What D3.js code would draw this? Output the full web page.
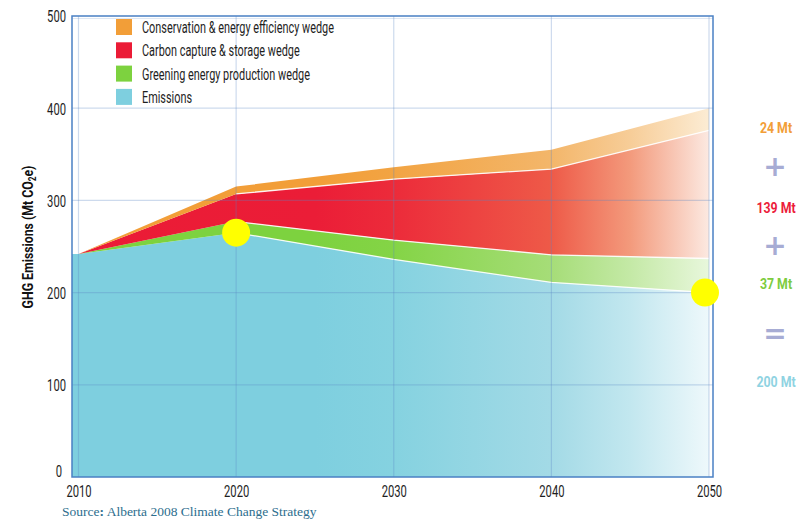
<!DOCTYPE html>
<html>
<head>
<meta charset="utf-8">
<script src="https://cdn.jsdelivr.net/npm/d3@7"></script>
<style>
  html, body { margin: 0; padding: 0; background: #ffffff; }
  svg { display: block; }
</style>
</head>
<body>
<svg id="chart" width="811" height="520"></svg>
<script>
// Alberta GHG emission wedges, 2010–2050 (Mt CO2e)
const years = [2010, 2020, 2030, 2040, 2050];
const emissions = [242, 265, 236, 211, 200];
const greening = [0, 12, 21, 30, 37];
const carbonCapture = [0, 30, 66, 93, 139];
const conservation = [0, 8, 13, 21, 24];

const yTicks = [0, 100, 200, 300, 400, 500];
const xTicks = [2010, 2020, 2030, 2040, 2050];

const seriesKeys = ["emissions", "greening", "carbonCapture", "conservation"];
const legendLabels = [
  "Conservation & energy efficiency wedge",
  "Carbon capture & storage wedge",
  "Greening energy production wedge",
  "Emissions"
];
const legendColors = ["#f29e38", "#eb1b36", "#7dd23f", "#7ecfdf"];

// 2050 wedge totals shown on the right
const wedgeLabels = ["24 Mt", "139 Mt", "37 Mt", "200 Mt"];
const wedgeLabelColors = ["#f29e38", "#ec1c3a", "#7dcc3f", "#8fd3e2"];
const operators = ["+", "+", "="];

// Highlighted emission points
const highlightYears = [2020, 2050];

// Colour ramps: full colour early on, washing out toward 2050
const fadeYears = [2010, 2025, 2030, 2040, 2045, 2050];
const fadeColors = {
  emissions:     ["#7ecfdf", "#7ecfdf", "#85d2e0", "#a3dae6", "#c2e7ef", "#eef8fb"],
  greening:      ["#7dd23f", "#7dd23f", "#84d446", "#a6dd78", "#c4e9a6", "#e8f7dc"],
  carbonCapture: ["#eb1b36", "#eb1d37", "#ec2b3a", "#ee5a48", "#f39a7c", "#fce9e1"],
  conservation:  ["#f29e38", "#f29e38", "#f2a443", "#f3b66a", "#f7cd98", "#fcecd4"]
};

const rows = years.map((yr, i) => ({
  year: yr,
  emissions: emissions[i],
  greening: greening[i],
  carbonCapture: carbonCapture[i],
  conservation: conservation[i]
}));

const svg = d3.select("#chart");
const frame = { left: 72, right: 713, top: 16, bottom: 477 };

const x = d3.scaleLinear().domain([2010, 2050]).range([78.5, 709]);
const y = d3.scaleLinear().domain([0, 500]).range([frame.bottom, frame.top]);

const stacked = d3.stack().keys(seriesKeys)(rows);

const defs = svg.append("defs");
seriesKeys.forEach(k => {
  const g = defs.append("linearGradient")
    .attr("id", "grad-" + k)
    .attr("gradientUnits", "userSpaceOnUse")
    .attr("x1", x(2010)).attr("x2", x(2050))
    .attr("y1", 0).attr("y2", 0);
  fadeYears.forEach((yr, j) => {
    g.append("stop")
      .attr("offset", (yr - 2010) / 40)
      .attr("stop-color", fadeColors[k][j]);
  });
});

// Stacked areas
const area = d3.area()
  .x(d => x(d.data.year))
  .y0(d => y(d[0]))
  .y1(d => y(d[1]));

stacked.forEach((s, i) => {
  let pts = s.slice();
  let a = area;
  if (i === 0) {
    // emissions fill reaches the left frame edge
    a = d3.area()
      .x((d, j) => j === 0 ? frame.left : x(d.data.year))
      .y0(d => y(d[0]))
      .y1(d => y(d[1]));
    pts = [s[0]].concat(s);
  }
  svg.append("path")
    .attr("d", a(pts))
    .attr("fill", "url(#grad-" + seriesKeys[i] + ")");
});

// White separators between layers
const topLine = d3.line().x(d => x(d.data.year)).y(d => y(d[1]));
stacked.slice(0, 3).forEach(s => {
  svg.append("path")
    .attr("d", topLine(s.slice(1)))
    .attr("fill", "none")
    .attr("stroke", "#ffffff")
    .attr("stroke-width", 1.3)
    .attr("stroke-opacity", 0.9);
});

// Grid
const grid = svg.append("g").attr("stroke", "#5b86c5").attr("stroke-opacity", 0.3).attr("stroke-width", 1.2);
yTicks.filter(t => t > 0 && t < 500).forEach(t => {
  grid.append("line")
    .attr("x1", frame.left).attr("x2", frame.right)
    .attr("y1", y(t)).attr("y2", y(t));
});
xTicks.forEach(t => {
  grid.append("line")
    .attr("x1", x(t)).attr("x2", x(t))
    .attr("y1", frame.top).attr("y2", frame.bottom);
});
grid.append("line")
  .attr("x1", frame.left).attr("x2", frame.right)
  .attr("y1", frame.top + 2.5).attr("y2", frame.top + 2.5)
  .attr("stroke-opacity", 0.2);

// Frame
svg.append("rect")
  .attr("x", frame.left).attr("y", frame.top)
  .attr("width", frame.right - frame.left)
  .attr("height", frame.bottom - frame.top)
  .attr("fill", "none")
  .attr("stroke", "#4a80c4")
  .attr("stroke-width", 1.5);

// Highlight dots
svg.selectAll("circle.hl")
  .data(highlightYears)
  .join("circle")
  .attr("class", "hl")
  .attr("cx", yr => x(yr) - (yr === 2050 ? 4 : 0))
  .attr("cy", yr => y(emissions[years.indexOf(yr)]))
  .attr("r", 14)
  .attr("fill", "#ffff00");

const sans = "Roboto, 'Noto Sans', 'DejaVu Sans', sans-serif";

// Condense text horizontally around its own x position
function condense(sel, f) {
  sel.each(function () {
    const t = d3.select(this);
    const ox = +t.attr("x") || 0;
    t.attr("x", ox / f).attr("transform", `scale(${f},1)`);
  });
}

// Axes
const yAxis = svg.append("g")
  .attr("transform", `translate(${frame.left},0)`)
  .call(d3.axisLeft(y).tickValues(yTicks).tickSize(0).tickPadding(6).tickFormat(d3.format("d")));
yAxis.select(".domain").remove();
yAxis.selectAll("text")
  .attr("font-family", sans)
  .attr("font-size", 17)
  .attr("fill", "#1e1e1e")
  .attr("dy", d => d === 0 ? "-0.05em" : "0.35em")
  .attr("x", d => d === 0 ? -10 : -6);
condense(yAxis.selectAll("text"), 0.66);

const xAxis = svg.append("g")
  .attr("transform", `translate(0,${frame.bottom})`)
  .call(d3.axisBottom(x).tickValues(xTicks).tickSize(0).tickPadding(8).tickFormat(d3.format("d")));
xAxis.select(".domain").remove();
xAxis.selectAll("text")
  .attr("font-family", sans)
  .attr("font-size", 17)
  .attr("fill", "#1e1e1e");
condense(xAxis.selectAll("text"), 0.66);

// Y axis title
const yTitleG = svg.append("g").attr("transform", "translate(33,237) rotate(-90)");
const yTitle = yTitleG.append("text")
  .attr("text-anchor", "middle")
  .attr("font-family", sans)
  .attr("font-weight", "bold")
  .attr("font-size", 15)
  .attr("fill", "#111");
yTitle.append("tspan").text("GHG Emissions (Mt CO");
yTitle.append("tspan").attr("font-size", 10).attr("dy", 3).text("2");
yTitle.append("tspan").attr("dy", -3).text("e)");
condense(yTitle, 0.82);

// Legend
const legend = svg.append("g").attr("transform", "translate(116,19)");
legendLabels.forEach((lbl, i) => {
  const row = legend.append("g").attr("transform", `translate(0,${i * 23.3})`);
  row.append("rect").attr("width", 16).attr("height", 16).attr("fill", legendColors[i]);
  const t = row.append("text")
    .attr("x", 26).attr("y", 14)
    .attr("font-family", sans)
    .attr("font-size", 16.5)
    .attr("fill", "#1e1e1e")
    .text(lbl);
  condense(t, 0.66);
});

// Wedge totals at right
const labelY = [128, 208, 284, 382];
const opY = [166, 245, 333];
wedgeLabels.forEach((t, i) => {
  const lt = svg.append("text")
    .attr("x", 776).attr("y", labelY[i]).attr("dy", "0.36em")
    .attr("text-anchor", "middle")
    .attr("font-family", sans)
    .attr("font-weight", "bold")
    .attr("font-size", 14.5)
    .attr("fill", wedgeLabelColors[i])
    .text(t);
  condense(lt, 0.85);
});
operators.forEach((op, i) => {
  svg.append("text")
    .attr("x", 775).attr("y", opY[i]).attr("dy", "0.35em")
    .attr("text-anchor", "middle")
    .attr("font-family", "'DejaVu Sans', sans-serif")
    .attr("font-weight", "bold")
    .attr("font-size", 28)
    .attr("fill", "#a7acd4")
    .text(op);
});

// Source note
const src = svg.append("text")
  .attr("x", 62).attr("y", 516)
  .attr("font-family", "'Liberation Serif', 'DejaVu Serif', serif")
  .attr("font-size", 13.5)
  .attr("fill", "#2d6e8e");
src.append("tspan").text("Source");
src.append("tspan").attr("font-weight", "bold").text(":");
src.append("tspan").text(" Alberta 2008 Climate Change Strategy");
</script>
</body>
</html>
